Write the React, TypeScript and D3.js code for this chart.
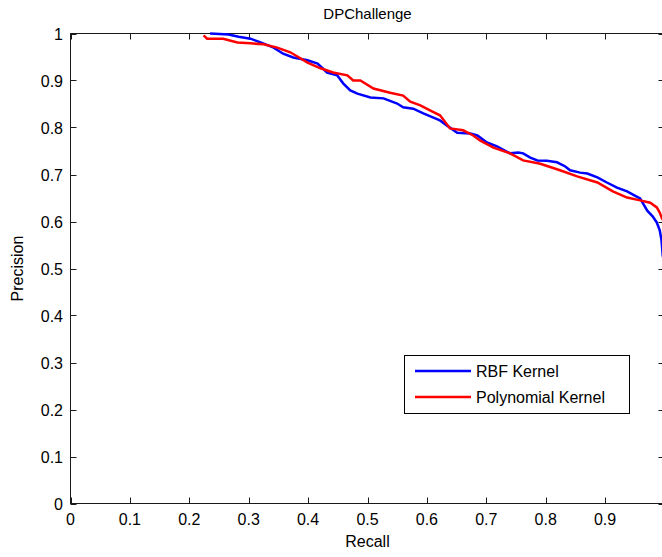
import React from "react";
import * as d3 from "d3";

const title = "DPChallenge";
const xLabel = "Recall";
const yLabel = "Precision";
const xTicks = [0, 0.1, 0.2, 0.3, 0.4, 0.5, 0.6, 0.7, 0.8, 0.9, 1];
const xTickLabels = ["0", "0.1", "0.2", "0.3", "0.4", "0.5", "0.6", "0.7", "0.8", "0.9", ""];
const yTicks = [0, 0.1, 0.2, 0.3, 0.4, 0.5, 0.6, 0.7, 0.8, 0.9, 1];
const yTickLabels = ["0", "0.1", "0.2", "0.3", "0.4", "0.5", "0.6", "0.7", "0.8", "0.9", "1"];
const seriesNames = ["RBF Kernel", "Polynomial Kernel"];
const seriesColors = ["#0000ff", "#ff0000"];

// [recall, precision]
const rbf: [number, number][] = [
  [0.235, 1.0], [0.266, 0.998], [0.283, 0.993], [0.303, 0.989], [0.32, 0.981],
  [0.342, 0.97], [0.358, 0.957], [0.375, 0.949], [0.399, 0.943], [0.416, 0.936],
  [0.432, 0.917], [0.449, 0.911], [0.459, 0.894], [0.471, 0.879], [0.483, 0.872],
  [0.505, 0.864], [0.527, 0.862], [0.55, 0.851], [0.56, 0.843], [0.577, 0.84],
  [0.594, 0.83], [0.611, 0.821], [0.622, 0.815], [0.634, 0.804], [0.651, 0.789],
  [0.673, 0.787], [0.685, 0.783], [0.701, 0.768], [0.718, 0.76], [0.74, 0.745],
  [0.754, 0.747], [0.762, 0.745], [0.774, 0.736], [0.786, 0.73], [0.802, 0.729],
  [0.819, 0.726], [0.833, 0.717], [0.841, 0.709], [0.858, 0.704], [0.87, 0.702],
  [0.887, 0.694], [0.903, 0.683], [0.92, 0.672], [0.937, 0.664], [0.95, 0.655],
  [0.959, 0.649], [0.964, 0.638], [0.971, 0.623], [0.98, 0.611], [0.987, 0.598],
  [0.992, 0.581], [0.995, 0.56], [0.997, 0.528], [1.0, 0.51],
];

const poly: [number, number][] = [
  [0.224, 0.996], [0.23, 0.989], [0.257, 0.989], [0.281, 0.981], [0.303, 0.979],
  [0.325, 0.977], [0.348, 0.97], [0.37, 0.96], [0.382, 0.951], [0.399, 0.938],
  [0.421, 0.926], [0.442, 0.917], [0.466, 0.911], [0.476, 0.9], [0.488, 0.9],
  [0.51, 0.883], [0.538, 0.874], [0.56, 0.868], [0.572, 0.855], [0.589, 0.847],
  [0.606, 0.836], [0.622, 0.826], [0.639, 0.798], [0.661, 0.794], [0.678, 0.783],
  [0.69, 0.772], [0.712, 0.757], [0.74, 0.745], [0.762, 0.73], [0.791, 0.723],
  [0.824, 0.709], [0.853, 0.696], [0.887, 0.683], [0.913, 0.664], [0.937, 0.651],
  [0.959, 0.645], [0.976, 0.64], [0.987, 0.63], [0.992, 0.619], [0.996, 0.606],
  [1.0, 0.598],
];

const W = 662;
const H = 557;
const left = 70.5;
const right = 664.5;
const top = 33.5;
const bottom = 503.5;
const FONT = "'Liberation Sans', Arial, Helvetica, sans-serif";
const FS = 16;

export default function App() {
  const x = d3.scaleLinear().domain([0, 1]).range([left, right]);
  const y = d3.scaleLinear().domain([0, 1]).range([bottom, top]);
  const line = d3
    .line<[number, number]>()
    .x((d) => x(d[0]))
    .y((d) => y(d[1]));
  const series = [rbf, poly];
  const tickLen = 6;
  const axisColor = "#1a1a1a";

  return (
    <svg
      width={W}
      height={H}
      style={{ position: "absolute", left: 0, top: 0, background: "#fff" }}
      fontFamily={FONT}
    >
      <rect x={0} y={0} width={W} height={H} fill="#fff" />
      <rect
        x={left}
        y={top}
        width={right - left}
        height={bottom - top}
        fill="none"
        stroke={axisColor}
        strokeWidth={1}
      />
      {xTicks.map((t, i) => (
        <g key={"xt" + i}>
          <line x1={Math.round(x(t)) + 0.5} x2={Math.round(x(t)) + 0.5} y1={bottom} y2={bottom - tickLen} stroke={axisColor} />
          <line x1={Math.round(x(t)) + 0.5} x2={Math.round(x(t)) + 0.5} y1={top} y2={top + tickLen} stroke={axisColor} />
          <text x={x(t)} y={525} fontSize={FS} textAnchor="middle" fill="#000">
            {xTickLabels[i]}
          </text>
        </g>
      ))}
      {yTicks.map((t, i) => (
        <g key={"yt" + i}>
          <line x1={left} x2={left + tickLen} y1={Math.round(y(t)) + 0.5} y2={Math.round(y(t)) + 0.5} stroke={axisColor} />
          <line x1={right} x2={right - tickLen} y1={Math.round(y(t)) + 0.5} y2={Math.round(y(t)) + 0.5} stroke={axisColor} />
          <text x={63} y={y(t) + 6} fontSize={FS} textAnchor="end" fill="#000">
            {yTickLabels[i]}
          </text>
        </g>
      ))}
      {series.map((s, i) => (
        <path
          key={"s" + i}
          d={line(s) || ""}
          fill="none"
          stroke={seriesColors[i]}
          strokeWidth={2.5}
        />
      ))}
      <text x={(left + right) / 2} y={19} fontSize={FS - 1} textAnchor="middle" fill="#000">
        {title}
      </text>
      <text x={(left + right) / 2} y={547} fontSize={FS} textAnchor="middle" fill="#000">
        {xLabel}
      </text>
      <text
        transform={`translate(23, ${(top + bottom) / 2}) rotate(-90)`}
        fontSize={FS}
        textAnchor="middle"
        fill="#000"
      >
        {yLabel}
      </text>
      <g>
        <rect x={404.5} y={355.5} width={225} height={58} fill="#fff" stroke="#000" strokeWidth={1} />
        {seriesNames.map((n, i) => (
          <g key={"lg" + i}>
            <line x1={415} x2={471} y1={371 + i * 26} y2={371 + i * 26} stroke={seriesColors[i]} strokeWidth={2.5} />
            <text x={476} y={377 + i * 26} fontSize={FS} fill="#000">
              {n}
            </text>
          </g>
        ))}
      </g>
    </svg>
  );
}
